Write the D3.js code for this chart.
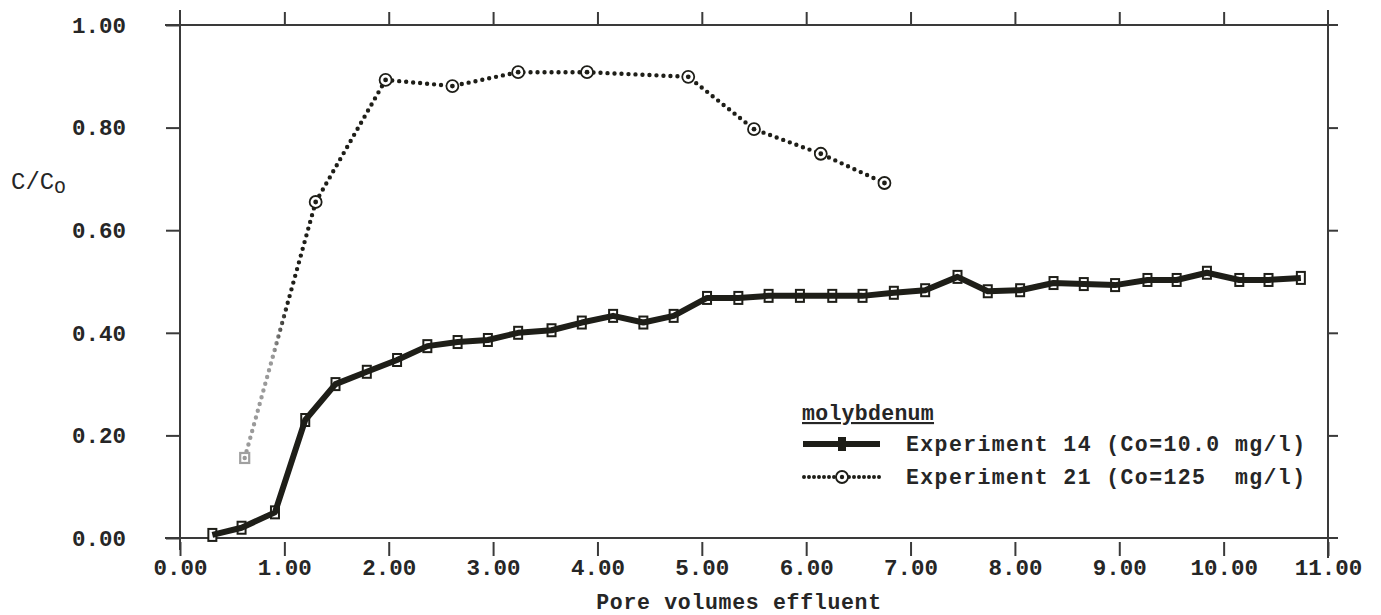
<!DOCTYPE html>
<html>
<head>
<meta charset="utf-8">
<script src="https://cdn.jsdelivr.net/npm/d3@7"></script>
<style>
  html, body { margin: 0; padding: 0; background: #fff; }
  svg { display: block; }
  text { font-family: "Liberation Mono", "DejaVu Sans Mono", monospace; fill: #262626; }
</style>
</head>
<body>
<svg id="chart" width="1381" height="615"></svg>
<script>
// Molybdenum breakthrough curves: relative concentration vs pore volumes of effluent

const xTickValues = [0, 1, 2, 3, 4, 5, 6, 7, 8, 9, 10, 11];
const yTickValues = [0, 0.2, 0.4, 0.6, 0.8, 1.0];

// Experiment 14 (Co = 10.0 mg/l)
const exp14X = [0.31, 0.59, 0.91, 1.20, 1.49, 1.79, 2.08, 2.37, 2.66, 2.95, 3.24, 3.56,
                3.85, 4.15, 4.44, 4.73, 5.05, 5.35, 5.64, 5.94, 6.25, 6.54, 6.84, 7.14,
                7.45, 7.74, 8.05, 8.37, 8.66, 8.96, 9.27, 9.55, 9.84, 10.15, 10.43, 10.74];
const exp14Y = [0.006, 0.02, 0.05, 0.23, 0.30, 0.324, 0.347, 0.374, 0.382, 0.386, 0.40, 0.405,
                0.42, 0.433, 0.42, 0.433, 0.468, 0.468, 0.472, 0.472, 0.472, 0.472, 0.478, 0.483,
                0.509, 0.481, 0.483, 0.497, 0.495, 0.493, 0.503, 0.503, 0.517, 0.503, 0.503, 0.507];

// Experiment 21 (Co = 125 mg/l)
const exp21X = [0.62, 1.30, 1.97, 2.61, 3.24, 3.90, 4.87, 5.50, 6.14, 6.75];
const exp21Y = [0.156, 0.655, 0.893, 0.881, 0.908, 0.908, 0.899, 0.797, 0.749, 0.692];

const legendTitle = "molybdenum";
const legendLabels = ["Experiment 14 (Co=10.0 mg/l)", "Experiment 21 (Co=125  mg/l)"];
const xAxisTitle = "Pore volumes effluent";

const ink = "#1e1e18";
const svg = d3.select("#chart");

const x = d3.scaleLinear().domain([0, 11]).range([180, 1328]);
const y = d3.scaleLinear().domain([0, 1]).range([538, 25]);
const fmt = d3.format(".2f");

// ---- frame ----
const frame = svg.append("g").attr("stroke", "#3a3a3a").attr("stroke-width", 2).attr("fill", "none");
frame.append("line").attr("x1", x(0) - 15).attr("x2", x(11) + 10).attr("y1", y(0)).attr("y2", y(0));
frame.append("line").attr("x1", x(0) - 15).attr("x2", x(11) + 10).attr("y1", y(1)).attr("y2", y(1));
frame.append("line").attr("x1", x(0)).attr("x2", x(0)).attr("y1", y(1) - 15).attr("y2", y(0) + 12);
frame.append("line").attr("x1", x(11)).attr("x2", x(11)).attr("y1", y(1) - 15).attr("y2", y(0) + 20);

// bottom axis: ticks downward with labels
const xAxis = d3.axisBottom(x).tickValues(xTickValues).tickFormat(fmt).tickSize(18).tickPadding(8);
const gx = svg.append("g").attr("transform", `translate(0,${y(0)})`).call(xAxis);
gx.select(".domain").remove();
gx.selectAll(".tick line").attr("stroke", "#3a3a3a").attr("stroke-width", 2)
  .attr("y1", 4);
gx.selectAll(".tick text").attr("font-size", 22.5).attr("font-weight", "bold")
  .attr("letter-spacing", "0px").attr("fill", "#262626").attr("dy", "0.5em");

// top axis: short ticks upward, no labels
const xTop = d3.axisTop(x).tickValues(xTickValues.slice(1, -1)).tickFormat("").tickSize(13);
const gt = svg.append("g").attr("transform", `translate(0,${y(1)})`).call(xTop);
gt.select(".domain").remove();
gt.selectAll(".tick line").attr("stroke", "#3a3a3a").attr("stroke-width", 2);

// left axis with labels
const yAxis = d3.axisLeft(y).tickValues(yTickValues).tickFormat(fmt).tickSize(14).tickPadding(40);
const gy = svg.append("g").attr("transform", `translate(${x(0)},0)`).call(yAxis);
gy.select(".domain").remove();
gy.selectAll(".tick line").attr("stroke", "#3a3a3a").attr("stroke-width", 2);
gy.selectAll(".tick text").attr("font-size", 22.5).attr("font-weight", "bold")
  .attr("letter-spacing", "0px").attr("fill", "#262626");

// right axis: short ticks outward
const yRight = d3.axisRight(y).tickValues(yTickValues.slice(1, -1)).tickFormat("").tickSize(10);
const gr = svg.append("g").attr("transform", `translate(${x(11)},0)`).call(yRight);
gr.select(".domain").remove();
gr.selectAll(".tick line").attr("stroke", "#3a3a3a").attr("stroke-width", 2);

// axis titles
svg.append("text").attr("x", 739).attr("y", 609)
  .attr("text-anchor", "middle").attr("font-size", 21.5).attr("font-weight", "bold")
  .attr("letter-spacing", "0.7px").text(xAxisTitle);

const yt = svg.append("text").attr("x", 11).attr("y", 189)
  .attr("font-size", 24).attr("letter-spacing", "0px").attr("fill", "#3a3a3a");
yt.append("tspan").text("C/C");
yt.append("tspan").attr("font-size", 19).attr("dy", 4).text("O");

// ---- Experiment 21: dotted line with circles ----
const grad = svg.append("defs").append("linearGradient")
  .attr("id", "fade21").attr("gradientUnits", "userSpaceOnUse")
  .attr("x1", x(exp21X[0])).attr("x2", x(exp21X[1])).attr("y1", 0).attr("y2", 0);
grad.append("stop").attr("offset", "0").attr("stop-color", "#9a9a9a");
grad.append("stop").attr("offset", "0.4").attr("stop-color", "#9a9a9a");
grad.append("stop").attr("offset", "0.6").attr("stop-color", ink);
grad.append("stop").attr("offset", "1").attr("stop-color", ink);

const data21 = exp21X.map((v, i) => [v, exp21Y[i]]);
const line = d3.line().x(d => x(d[0])).y(d => y(d[1]));
svg.append("path").datum(data21).attr("d", line)
  .attr("fill", "none").attr("stroke", "url(#fade21)").attr("stroke-width", 4.4)
  .attr("stroke-linecap", "round").attr("stroke-dasharray", "0 7");

svg.append("g").selectAll("g").data(data21.slice(1)).join("g")
  .attr("transform", d => `translate(${x(d[0])},${y(d[1])})`)
  .each(function () {
    const g = d3.select(this);
    g.append("circle").attr("r", 6).attr("fill", "#fff").attr("stroke", ink).attr("stroke-width", 1.8);
    g.append("circle").attr("r", 2.4).attr("fill", ink);
  });
// first sample, faint square symbol
svg.append("rect").datum(data21[0])
  .attr("x", d => x(d[0]) - 4.5).attr("y", d => y(d[1]) - 5).attr("width", 9).attr("height", 10)
  .attr("fill", "none").attr("stroke", "#a0a0a0").attr("stroke-width", 2.2);

// ---- Experiment 14: heavy line with square markers ----
const data14 = exp14X.map((v, i) => [v, exp14Y[i]]);
svg.append("g").selectAll("rect").data(data14).join("rect")
  .attr("x", d => x(d[0]) - 4).attr("y", d => y(d[1]) - 6).attr("width", 8).attr("height", 12)
  .attr("fill", "#fff").attr("stroke", ink).attr("stroke-width", 2);
svg.append("path").datum(data14).attr("d", line)
  .attr("fill", "none").attr("stroke", ink).attr("stroke-width", 6)
  .attr("stroke-linejoin", "round");

// ---- legend ----
const lg = svg.append("g");
lg.append("text").attr("x", 802).attr("y", 420).attr("font-size", 21.5).attr("font-weight", "bold")
  .attr("letter-spacing", "0.3px").attr("text-decoration", "underline").text(legendTitle);

const row1 = 444, row2 = 477;
lg.append("line").attr("x1", 803).attr("x2", 880).attr("y1", row1).attr("y2", row1)
  .attr("stroke", ink).attr("stroke-width", 6);
lg.append("rect").attr("x", 838).attr("y", row1 - 7).attr("width", 8).attr("height", 14)
  .attr("fill", ink);
lg.append("line").attr("x1", 804).attr("x2", 880).attr("y1", row2).attr("y2", row2)
  .attr("stroke", ink).attr("stroke-width", 4).attr("stroke-linecap", "round")
  .attr("stroke-dasharray", "0 5");
lg.append("circle").attr("cx", 842).attr("cy", row2).attr("r", 6).attr("fill", "#fff")
  .attr("stroke", ink).attr("stroke-width", 1.8);
lg.append("circle").attr("cx", 842).attr("cy", row2).attr("r", 2.2).attr("fill", ink);

lg.selectAll("text.item").data(legendLabels).join("text").attr("class", "item")
  .attr("x", 906).attr("y", (d, i) => (i ? row2 : row1) + 7)
  .attr("font-size", 21.5).attr("font-weight", "bold").attr("letter-spacing", "1.4px")
  .style("white-space", "pre").attr("xml:space", "preserve").text(d => d);
</script>
</body>
</html>
